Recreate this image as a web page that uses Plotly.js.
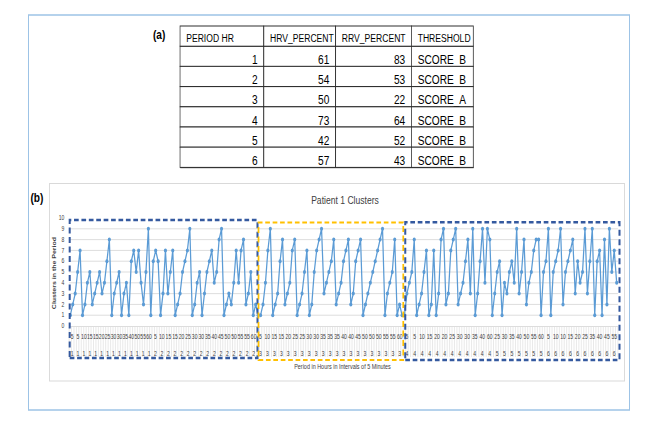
<!DOCTYPE html>
<html><head><meta charset="utf-8">
<script src="https://cdn.plot.ly/plotly-3.0.1.min.js"></script>
<style>
html,body{margin:0;padding:0;background:#fff;overflow:hidden;}
#wrap{width:649px;height:432px;overflow:hidden;}
#chart{width:832px;height:432px;transform:scaleX(0.78005);transform-origin:0 0;}
</style>
</head><body><div id="wrap"><div id="chart"></div></div>
<script>
// ---------- (a) table data ----------
const tableHeaders = ['PERIOD HR', 'HRV_PERCENT', 'RRV_PERCENT', 'THRESHOLD'];
const periodHr = [1, 2, 3, 4, 5, 6];
const hrvPercent = [61, 54, 50, 73, 42, 57];
const rrvPercent = [83, 53, 22, 64, 52, 43];
const threshold = ['SCORE_B', 'SCORE_B', 'SCORE_A', 'SCORE_B', 'SCORE_B', 'SCORE_B'];

// ---------- (b) chart data: clusters per 5-minute interval, by hour ----------
const hourLabels = ['1', '2', '3', '4', '5', '6'];
const hour1Clusters = [1,2,3,5,7,1,2,4,5,2,3,4,5,3,4,6,8,1,3,4,5,1,3,4,1,6,7,5,7,4,2,5,9,1];
const hour2Clusters = [6,7,6,1,3,7,3,5,7,1,2,3,5,6,7,9,1,2,4,5,1,3,5,6,7,4,5,8,9,1,2,3,2,4,7,4,7,8,2,3,5,1,2];
const hour3Clusters = [1,1,2,4,7,9,1,2,3,6,8,2,3,4,7,8,1,2,3,5,7,1,2,5,7,8,9,3,4,5,6,8,2,3,4,6,7,8,2,3,6,7,8,1,2,3,4,5,6,7,8,9,1,3,4,5,8,1,2,1];
const hour4Clusters = [1,3,4,5,8,1,2,3,5,7,1,2,7,1,3,8,9,2,3,7,8,9,2,3,4,6,8,3,9,1,3,6,9,4,9,8,1];
const hour5Clusters = [3,5,6,1,4,3,5,6,4,9,3,5,8,2,4,5,7,8,8,1,5];
const hour6Clusters = [6,9,1,5,6,7,9,2,5,6,7,8,3,6,4,5,9,3,6,9,1,6,7,1,8,2,9,5,7,4];

// minute tick labels shown under each hour
const hour1Minutes = ['5','5','10','15','15','20','25','30','30','35','40','50','55','60'];
const hour2Minutes = ['5','10','15','15','20','25','30','30','35','40','45','50','50','55','55','60'];
const hour3Minutes = ['5','10','15','15','20','25','25','30','30','35','35','35','40','40','45','50','50','50','55','55','60'];
const hour4Minutes = ['5','5','10','15','20','20','25','30','30','35','40','60'];
const hour5Minutes = ['25','30','35','40','50','55','60'];
const hour6Minutes = ['5','10','10','15','20','25','35','40','45','55'];

const hourClusters = [hour1Clusters, hour2Clusters, hour3Clusters, hour4Clusters, hour5Clusters, hour6Clusters];
const hourMinutes = [hour1Minutes, hour2Minutes, hour3Minutes, hour4Minutes, hour5Minutes, hour6Minutes];

// visible picture is 649x432; the figure is drawn 832 wide and squeezed horizontally
const W = 649, H = 432, WL = 832;
const yv = [].concat(...hourClusters);
const xv = yv.map((_, i) => i);
const xRange = [-0.5, yv.length - 0.5];
const xDom = [69.1 / W, 617.9 / W];
const yDom = [1 - 326 / H, 1 - 218 / H];

// hour boundaries (in category units) and tick labels
const bounds = [];
const tickvals = [], ticktext = [];
let start = 0;
hourClusters.forEach((arr, h) => {
  bounds.push(start - 0.5);
  const n = arr.length, mins = hourMinutes[h];
  mins.forEach((m, j) => {
    tickvals.push(start + (j + 0.5) * n / mins.length - 0.5);
    ticktext.push(m + '<br>\u00a0<br>' + hourLabels[h]);
  });
  start += n;
});
bounds.push(start - 0.5);
const toPx = v => xDom[0] + (v - xRange[0]) / (xRange[1] - xRange[0]) * (xDom[1] - xDom[0]);
const py = p => 1 - p / H;
const px = p => p / W;

const FONT = '"Liberation Sans", Arial, sans-serif';

const tableTrace = {
  type: 'table',
  domain: {x: [180 / W, 474 / W], y: [py(172), py(26)]},
  columnwidth: [84, 72, 76, 62],
  header: {
    values: tableHeaders,
    align: 'left',
    height: 20.2,
    line: {color: '#2e2e2e', width: 1},
    fill: {color: '#ffffff'},
    font: {family: FONT, size: 11, color: '#000000'}
  },
  cells: {
    values: [periodHr, hrvPercent, rrvPercent, threshold],
    align: ['right', 'right', 'right', 'left'],
    height: 20.2,
    line: {color: '#2e2e2e', width: 1},
    fill: {color: '#ffffff'},
    font: {family: FONT, size: 13, color: '#000000'}
  }
};

const lineTrace = {
  type: 'scatter',
  mode: 'lines+markers',
  x: xv,
  y: yv,
  line: {color: '#5b9bd5', width: 1.6},
  marker: {color: '#5b9bd5', size: 4},
  hoverinfo: 'skip',
  showlegend: false
};

const BLUE = '#34599f', GOLD = '#ffc000';
const DASH = '6px,3.5px';
const shapes = [
  {type: 'rect', xref: 'paper', yref: 'paper', x0: px(28.5), x1: px(629.5), y0: py(410), y1: py(15),
   line: {color: '#9dc3e6', width: 1.3}, layer: 'below'},
  {type: 'rect', xref: 'paper', yref: 'paper', x0: px(49.5), x1: px(624.5), y0: py(381), y1: py(183.5),
   line: {color: '#d9d9d9', width: 1.2}, layer: 'below'},
  // outline closing the table's bottom edge
  {type: 'line', xref: 'paper', yref: 'paper', x0: px(180.3), x1: px(473.7), y0: py(167.7), y1: py(167.7),
   line: {color: '#2e2e2e', width: 1}},
  {type: 'rect', xref: 'paper', yref: 'paper', x0: toPx(bounds[0]) + 0.6 / W, x1: toPx(bounds[2]) + 0.6 / W,
   y0: py(358), y1: py(220), line: {color: BLUE, width: 2.6, dash: DASH}},
  {type: 'rect', xref: 'paper', yref: 'paper', x0: toPx(bounds[2]) + 1.6 / W, x1: toPx(bounds[3]),
   y0: py(360), y1: py(222.5), line: {color: GOLD, width: 2.2, dash: DASH}},
  {type: 'rect', xref: 'paper', yref: 'paper', x0: toPx(bounds[3]) + 2 / W, x1: toPx(bounds[6]) + 1.6 / W,
   y0: py(360), y1: py(222.3), line: {color: BLUE, width: 2.6, dash: DASH}}
];

const annotations = [
  {text: '<b>(a)</b>', xref: 'paper', yref: 'paper', x: px(159), y: py(34), xanchor: 'center', yanchor: 'middle',
   showarrow: false, font: {family: FONT, size: 13, color: '#000'}},
  {text: '<b>(b)</b>', xref: 'paper', yref: 'paper', x: px(37), y: py(197), xanchor: 'center', yanchor: 'middle',
   showarrow: false, font: {family: FONT, size: 13, color: '#000'}},
  {text: '<b>Clusters in the Period</b>', xref: 'paper', yref: 'paper', x: px(54), y: py(273),
   xanchor: 'center', yanchor: 'middle', textangle: -90, showarrow: false,
   font: {family: FONT, size: 7, color: '#404040'}},
  {text: 'Period in Hours in Intervals of 5 Minutes', xref: 'paper', yref: 'paper', x: px(343), y: py(366.5),
   xanchor: 'center', yanchor: 'middle', showarrow: false, font: {family: FONT, size: 7, color: '#404040'}}
];

const layout = {
  width: WL, height: H,
  margin: {l: 0, r: 0, t: 0, b: 0},
  paper_bgcolor: '#ffffff', plot_bgcolor: '#ffffff',
  showlegend: false,
  title: {text: 'Patient 1 Clusters', x: px(345), y: py(200), xanchor: 'center', yanchor: 'middle',
          xref: 'paper', yref: 'paper', font: {family: FONT, size: 11, color: '#404040'}},
  xaxis: {
    domain: xDom, range: xRange, fixedrange: true,
    tickmode: 'array', tickvals: tickvals, ticktext: ticktext, tickangle: 0,
    ticks: 'outside', ticklen: 4, tickcolor: 'rgba(0,0,0,0)',
    tickfont: {family: FONT, size: 6.5, color: '#404040'},
    showgrid: false, zeroline: false, showline: true, linecolor: '#d9d9d9', linewidth: 1,
    minor: {ticks: 'outside', ticklen: 30, tickcolor: '#e6e6e6', tickwidth: 1,
            tickmode: 'linear', tick0: -0.5, dtick: 1, showgrid: false}
  },
  yaxis: {
    domain: yDom, range: [0, 10], fixedrange: true,
    tickmode: 'linear', tick0: 0, dtick: 1, ticks: '', ticklabelstandoff: 5,
    tickfont: {family: FONT, size: 6.5, color: '#404040'},
    showgrid: true, gridcolor: '#d9d9d9', gridwidth: 1, zeroline: false, showline: false
  },
  shapes: shapes,
  annotations: annotations
};

Plotly.newPlot('chart', [tableTrace, lineTrace], layout, {displayModeBar: false, staticPlot: true});
</script>
</body></html>
